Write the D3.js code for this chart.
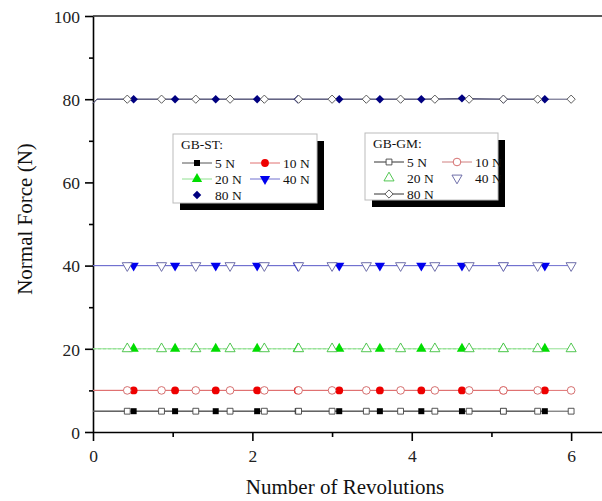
<!DOCTYPE html>
<html>
<head>
<meta charset="utf-8">
<script src="https://cdn.jsdelivr.net/npm/d3@7"></script>
<style>
  body { margin: 0; background: #fff; }
  svg, svg text { font-family: "Liberation Serif", "Times New Roman", serif !important; }
  svg { display: block; }
</style>
</head>
<body>
<svg id="chart" width="602" height="501"></svg>
<script>
// revolutions where markers sit
const revST = [0.51, 1.03, 1.54, 2.06, 2.57, 3.09, 3.6, 4.12, 4.63, 5.15, 5.67];
const revGM = [0.43, 0.86, 1.29, 1.72, 2.15, 2.58, 3.0, 3.43, 3.86, 4.29, 4.72, 5.15, 5.58, 6.0];

const loads = ["5 N", "10 N", "20 N", "40 N", "80 N"];
const colors = ["#000000", "#ee0000", "#00dd00", "#0000ee", "#000080"];
const lineColors = ["#555555", "#e07070", "#90e090", "#7070d0", "#555577"];
const openColors = ["#444444", "#d06060", "#40c040", "#6060a0", "#555555"];

// normal force (GB-ST, filled markers)
const st5  = [5, 5, 5, 5, 5, 5, 5, 5, 5, 5, 5];
const st10 = [10, 10, 10, 10, 10, 10, 10, 10, 10, 10, 10];
const st20 = [20, 20, 20, 20, 20, 20, 20, 20, 20, 20, 20];
const st40 = [40, 40, 40, 40, 40, 40, 40, 40, 40, 40, 40];
const st80 = [80, 80, 80, 80, 80, 80, 80, 80, 80.2, 80, 80];

// GB-GM, open markers
const gm5  = [5, 5, 5, 5, 5, 5, 5, 5, 5, 5, 5, 5, 5, 5];
const gm10 = [10, 10, 10, 10, 10, 10, 10, 10, 10, 10, 10, 10, 10, 10];
const gm20 = [20, 20, 20, 20, 20, 20, 20, 20, 20, 20, 20, 20, 20, 20];
const gm40 = [40, 40, 40, 40, 40, 40, 40, 40, 40, 40, 40, 40, 40, 40];
const gm80 = [80, 80, 80, 80, 80, 80, 80, 80, 80, 80, 80, 80, 80, 80];

// start of each trace: [revolution, force]
const startX = [0, 0.05];
const startValues = [[5, 5], [10, 10], [20, 20], [40, 40], [79, 80]];

const xTicks = [0, 2, 4, 6];
const yTicks = [0, 20, 40, 60, 80, 100];

const stSeries = [st5, st10, st20, st40, st80];
const gmSeries = [gm5, gm10, gm20, gm40, gm80];
const shapes = ["square", "circle", "up", "down", "diamond"];
const symSizes = [30, 42, 40, 40, 30];

const svg = d3.select("#chart");
const margin = { top: 16, left: 93 };
const plotW = 510, plotH = 416;

const x = d3.scaleLinear().domain([0, 6.4]).range([margin.left, margin.left + plotW]);
const y = d3.scaleLinear().domain([0, 100]).range([margin.top + plotH, margin.top]);

function symbolPath(shape, size) {
    if (shape === "square" || shape === "diamond") return d3.symbol(d3.symbolSquare, size)();
    if (shape === "circle") return d3.symbol(d3.symbolCircle, size)();
    return d3.symbol(d3.symbolTriangle, size)();
}
function symbolTransform(shape, px, py) {
    if (shape === "down") return `translate(${px},${py}) rotate(180)`;
    if (shape === "diamond") return `translate(${px},${py}) rotate(45)`;
    return `translate(${px},${py})`;
}

// axes
const xAxis = svg.append("g")
    .attr("transform", `translate(0,${y(0)})`)
    .call(d3.axisBottom(x).tickValues(xTicks).tickSize(9).tickSizeOuter(0).tickFormat(d3.format("d")));
svg.append("g")
    .attr("transform", `translate(0,${y(0)})`)
    .call(d3.axisBottom(x).tickValues([1, 3, 5]).tickSize(5).tickSizeOuter(0).tickFormat(""))
    .call(g => g.select(".domain").remove());

const yAxis = svg.append("g")
    .attr("transform", `translate(${x(0)},0)`)
    .call(d3.axisLeft(y).tickValues(yTicks).tickSize(8).tickSizeOuter(0));
svg.append("g")
    .attr("transform", `translate(${x(0)},0)`)
    .call(d3.axisLeft(y).tickValues([10, 30, 50, 70, 90]).tickSize(4).tickSizeOuter(0).tickFormat(""))
    .call(g => g.select(".domain").remove());

svg.selectAll("g").attr("font-family", null);
svg.selectAll(".domain").attr("stroke", "#000").attr("stroke-width", 1.6);
svg.selectAll(".tick line").attr("stroke", "#000").attr("stroke-width", 1.6);
svg.selectAll(".tick text")
    .style("font-size", "17.5px")
    .attr("fill", "#222");
xAxis.selectAll(".tick text").attr("dy", "1.05em");
yAxis.selectAll(".tick text").attr("x", -13).attr("dy", "0.36em");

// top border
svg.append("line")
    .attr("x1", x(0)).attr("x2", x(6.4))
    .attr("y1", y(100)).attr("y2", y(100))
    .attr("stroke", "#222").attr("stroke-width", 1.6);

// traces
const line = d3.line().x(d => x(d[0])).y(d => y(d[1]));
const plot = svg.append("g");

loads.forEach((load, i) => {
    const head = startX.map((s, k) => [s, startValues[i][k]]);
    const gmPts = head.concat(revGM.map((r, j) => [r, gmSeries[i][j]]));
    const stPts = head.concat(revST.map((r, j) => [r, stSeries[i][j]]));
    plot.append("path").datum(gmPts)
        .attr("fill", "none").attr("stroke", lineColors[i]).attr("stroke-width", 1)
        .attr("d", line);
    plot.append("path").datum(stPts)
        .attr("fill", "none").attr("stroke", lineColors[i]).attr("stroke-width", 1)
        .attr("stroke-dasharray", i === 2 ? "3,2" : null)
        .attr("d", line);

    // filled markers (GB-ST)
    revST.forEach((r, j) => {
        plot.append("path")
            .attr("d", symbolPath(shapes[i], symSizes[i] + 6))
            .attr("transform", symbolTransform(shapes[i], x(r), y(stSeries[i][j])))
            .attr("fill", colors[i]);
    });
    // open markers (GB-GM)
    revGM.forEach((r, j) => {
        plot.append("path")
            .attr("d", symbolPath(shapes[i], symSizes[i] + 4))
            .attr("transform", symbolTransform(shapes[i], x(r), y(gmSeries[i][j])))
            .attr("fill", "#fff")
            .attr("stroke", openColors[i])
            .attr("stroke-width", 0.9);
    });
});

// axis titles
svg.append("text")
    .attr("x", 345).attr("y", 494)
    .attr("text-anchor", "middle")
    .style("font-size", "21px")
    .attr("fill", "#111")
    .text("Number of Revolutions");

svg.append("text")
    .attr("transform", "rotate(-90)")
    .attr("x", -219).attr("y", 32)
    .attr("text-anchor", "middle")
    .style("font-size", "21px")
    .attr("fill", "#111")
    .text("Normal Force (N)");

// legends
function drawLegend(opts) {
    const g = svg.append("g").attr("transform", `translate(${opts.x},${opts.y})`);
    g.append("rect")
        .attr("x", 7).attr("y", 7).attr("width", opts.w).attr("height", opts.h)
        .attr("fill", "#000");
    g.append("rect")
        .attr("x", 0).attr("y", 0).attr("width", opts.w).attr("height", opts.h)
        .attr("fill", "#fff").attr("stroke", "#bbb").attr("stroke-width", 1);
    g.append("text")
        .attr("x", 8).attr("y", 15)
        .style("font-size", "13.5px").attr("fill", "#111")
        .text(opts.title);

    opts.items.forEach(it => {
        const cx = it.col === 0 ? 24 : 92;
        const cy = 29 + it.row * 16;
        if (it.line) {
            g.append("line")
                .attr("x1", cx - 15).attr("x2", cx + 15)
                .attr("y1", cy).attr("y2", cy)
                .attr("stroke", it.lineColor).attr("stroke-width", 1);
        }
        g.append("path")
            .attr("d", symbolPath(it.shape, it.size))
            .attr("transform", symbolTransform(it.shape, cx, cy))
            .attr("fill", it.fill)
            .attr("stroke", it.stroke || "none")
            .attr("stroke-width", 0.9);
        g.append("text")
            .attr("x", cx + 18).attr("y", cy + 4.5)
            .style("font-size", "13.5px").attr("fill", "#111")
            .text(it.label);
    });
}

const legendSlots = [[0, 0], [1, 0], [0, 1], [1, 1], [0, 2]];

drawLegend({
    x: 173, y: 134, w: 144, h: 69, title: "GB-ST:",
    items: loads.map((l, i) => ({
        label: l, col: legendSlots[i][0], row: legendSlots[i][1],
        shape: shapes[i], size: symSizes[i] + 6, fill: colors[i],
        line: i !== 4, lineColor: lineColors[i]
    }))
});

drawLegend({
    x: 365, y: 133, w: 133, h: 67, title: "GB-GM:",
    items: loads.map((l, i) => ({
        label: l, col: legendSlots[i][0], row: legendSlots[i][1],
        shape: shapes[i], size: symSizes[i] + 4, fill: "#fff",
        stroke: openColors[i],
        line: i === 0 || i === 1 || i === 4, lineColor: i === 1 ? "#d08080" : "#333"
    }))
});
</script>
</body>
</html>
